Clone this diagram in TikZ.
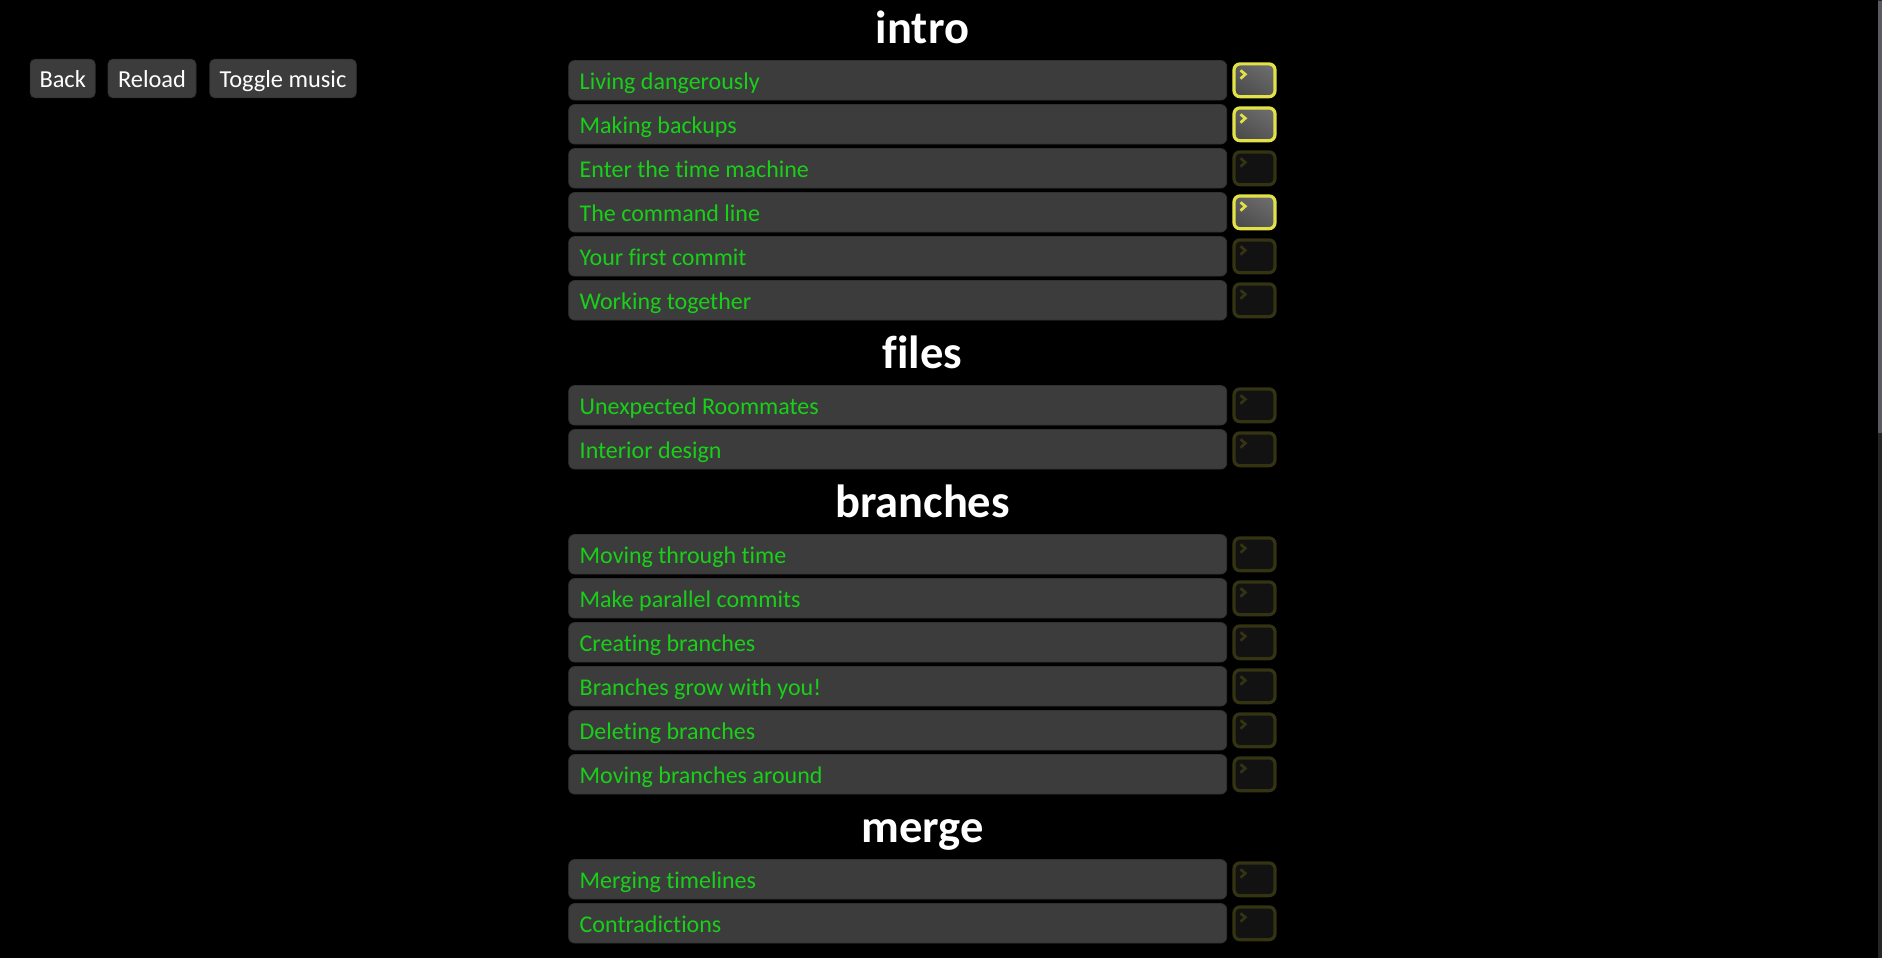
\documentclass[tikz,border=0pt]{standalone}
\usepackage{fontspec}
\setmainfont{Carlito}[Ligatures=NoCommon]
\usetikzlibrary{calc}
\definecolor{rowgrey}{RGB}{60,60,60}
\definecolor{rowedge}{RGB}{50,50,50}
\definecolor{levelgreen}{RGB}{24,208,24}
\definecolor{doneyellow}{RGB}{226,226,72}
\definecolor{dimyellow}{RGB}{52,52,18}
\definecolor{dimfill}{RGB}{18,18,18}
\definecolor{scrolltrack}{RGB}{38,38,38}
\definecolor{scrollthumb}{RGB}{90,90,96}
\tikzset{
	pagetitle/.style={anchor=base, text=white, font=\fontsize{46.5}{46}\selectfont\bfseries, inner sep=0},
	topbutton/.style={fill=rowgrey, draw=rowedge, line width=0.8, rounded corners=5, text=white, font=\fontsize{24.4}{25}\selectfont, minimum height=38.5, text height=22, text depth=4, inner xsep=0, inner ysep=0},
	levelrow/.style={fill=rowgrey, draw=rowedge, line width=0.8, rounded corners=6, text=levelgreen, font=\fontsize{24}{25}\selectfont, minimum width=658, minimum height=39.5, text width=636, align=flush left, text height=22, text depth=4, inner xsep=11, inner ysep=0},
	donebox/.style={draw=doneyellow, line width=3.2, rounded corners=6, top color=black!58, bottom color=black!70, shading angle=-30, minimum width=41, minimum height=32.8, inner sep=0},
	dimbox/.style={draw=dimyellow, fill=dimfill, line width=3.2, rounded corners=6, minimum width=41, minimum height=32.8, inner sep=0},
	donemark/.style={draw=doneyellow, line width=2.7},
	dimmark/.style={draw=dimyellow, line width=2.7}
}
\def\promptmark[#1](#2){\draw[#1] ($(#2)+(-14,-10)$) -- ($(#2)+(-9.2,-6)$) -- ($(#2)+(-14,-1.6)$);}

\begin{document}
\begin{tikzpicture}[x=1pt, y=-1pt]
	%%%%% START %%%%%
	\useasboundingbox[fill=black] (0, 0) rectangle (1882, 958);
	
	\fill[scrolltrack] (1877.5, 0) rectangle (1882, 958);
	\fill[scrollthumb] (1878.2, 1) rectangle (1882, 433);
	
	\node[topbutton, minimum width=65] (back) at (62.7, 78.5) {Back};
	\node[topbutton, minimum width=88] (reload) at (152, 78.5) {Reload};
	\node[topbutton, minimum width=146.5] (music) at (283, 78.5) {Toggle music};
	
	%%%%% intro %%%%%
	\node[pagetitle] (intro) at (922.5, 43.5) {intro};
	
	\node[levelrow] (living) at (897.7, 80.3) {Living dangerously};
	\node[donebox] (livingbox) at (1254.5, 80.3) {};
	\promptmark[donemark](livingbox);
	
	\node[levelrow] (backups) at (897.7, 124.3) {Making backups};
	\node[donebox] (backupsbox) at (1254.5, 124.3) {};
	\promptmark[donemark](backupsbox);
	
	\node[levelrow] (machine) at (897.7, 168.3) {Enter the time machine};
	\node[dimbox] (machinebox) at (1254.5, 168.3) {};
	\promptmark[dimmark](machinebox);
	
	\node[levelrow] (cmdline) at (897.7, 212.3) {The command line};
	\node[donebox] (cmdlinebox) at (1254.5, 212.3) {};
	\promptmark[donemark](cmdlinebox);
	
	\node[levelrow] (firstcommit) at (897.7, 256.3) {Your first commit};
	\node[dimbox] (firstcommitbox) at (1254.5, 256.3) {};
	\promptmark[dimmark](firstcommitbox);
	
	\node[levelrow] (together) at (897.7, 300.3) {Working together};
	\node[dimbox] (togetherbox) at (1254.5, 300.3) {};
	\promptmark[dimmark](togetherbox);
	
	%%%%% files %%%%%
	\node[pagetitle] (files) at (922.5, 368.5) {files};
	
	\node[levelrow] (roommates) at (897.7, 405.3) {Unexpected Roommates};
	\node[dimbox] (roommatesbox) at (1254.5, 405.3) {};
	\promptmark[dimmark](roommatesbox);
	
	\node[levelrow] (interior) at (897.7, 449.3) {Interior design};
	\node[dimbox] (interiorbox) at (1254.5, 449.3) {};
	\promptmark[dimmark](interiorbox);
	
	%%%%% branches %%%%%
	\node[pagetitle] (branches) at (922.5, 517.5) {branches};
	
	\node[levelrow] (movingtime) at (897.7, 554.3) {Moving through time};
	\node[dimbox] (movingtimebox) at (1254.5, 554.3) {};
	\promptmark[dimmark](movingtimebox);
	
	\node[levelrow] (parallel) at (897.7, 598.3) {Make parallel commits};
	\node[dimbox] (parallelbox) at (1254.5, 598.3) {};
	\promptmark[dimmark](parallelbox);
	
	\node[levelrow] (creating) at (897.7, 642.3) {Creating branches};
	\node[dimbox] (creatingbox) at (1254.5, 642.3) {};
	\promptmark[dimmark](creatingbox);
	
	\node[levelrow] (grow) at (897.7, 686.3) {Branches grow with you!};
	\node[dimbox] (growbox) at (1254.5, 686.3) {};
	\promptmark[dimmark](growbox);
	
	\node[levelrow] (deleting) at (897.7, 730.3) {Deleting branches};
	\node[dimbox] (deletingbox) at (1254.5, 730.3) {};
	\promptmark[dimmark](deletingbox);
	
	\node[levelrow] (movingbranches) at (897.7, 774.3) {Moving branches around};
	\node[dimbox] (movingbranchesbox) at (1254.5, 774.3) {};
	\promptmark[dimmark](movingbranchesbox);
	
	%%%%% merge %%%%%
	\node[pagetitle] (merge) at (922.5, 842.7) {merge};
	
	\node[levelrow] (timelines) at (897.7, 879.3) {Merging timelines};
	\node[dimbox] (timelinesbox) at (1254.5, 879.3) {};
	\promptmark[dimmark](timelinesbox);
	
	\node[levelrow] (contradictions) at (897.7, 923.3) {Contradictions};
	\node[dimbox] (contradictionsbox) at (1254.5, 923.3) {};
	\promptmark[dimmark](contradictionsbox);
	
	%%%%% END %%%%%
\end{tikzpicture}
\end{document}
